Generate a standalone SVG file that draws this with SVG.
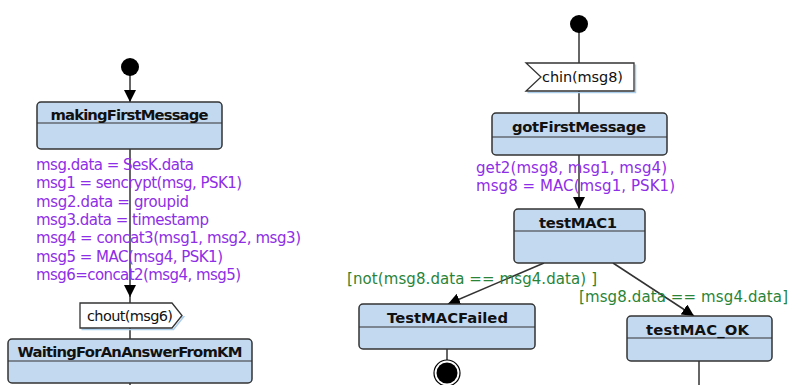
<svg xmlns="http://www.w3.org/2000/svg" width="790" height="385" viewBox="0 0 790 385">
<defs>
<style>
.st{fill:#c3d9f0;stroke:#333;stroke-width:1.5}
.dv{stroke:#333;stroke-width:1.2}
.tt{font-family:"DejaVu Sans",sans-serif;font-weight:bold;font-size:14.8px;fill:#111;text-anchor:middle}
.ac{font-family:"DejaVu Sans",sans-serif;font-size:15px;fill:#8e2ee6}
.gd{font-family:"DejaVu Sans",sans-serif;font-size:15px;fill:#2a8438}
.sg{font-family:"DejaVu Sans",sans-serif;font-size:14.5px;fill:#111}
.ln{stroke:#333;stroke-width:1.5;fill:none}
.sig{fill:#fff;stroke:#333;stroke-width:1.3}
.sh{fill:none;stroke:#a9cdea;stroke-width:1.5}
</style>
<marker id="ah" viewBox="0 0 12 12" refX="12" refY="6" markerWidth="12" markerHeight="12" markerUnits="userSpaceOnUse" orient="auto">
<path d="M0,0 L12,6 L0,12 Z" fill="#000"/>
</marker>
</defs>
<rect width="790" height="385" fill="#fff"/>

<g id="connectors">
<line class="ln" x1="130" y1="72" x2="130" y2="102" marker-end="url(#ah)"/>
<line class="ln" x1="130" y1="149" x2="130" y2="297" marker-end="url(#ah)"/>
<line class="ln" x1="130" y1="296" x2="130" y2="303"/>
<line class="ln" x1="130" y1="328" x2="130" y2="339"/>
<line class="ln" x1="130" y1="383" x2="130" y2="385"/>
<line class="ln" x1="579" y1="30" x2="579" y2="63"/>
<line class="ln" x1="579" y1="91" x2="579" y2="113"/>
<line class="ln" x1="579" y1="155" x2="579" y2="209" marker-end="url(#ah)"/>
<line class="ln" x1="544" y1="263" x2="448" y2="304" marker-end="url(#ah)"/>
<line class="ln" x1="613" y1="263" x2="694" y2="316" marker-end="url(#ah)"/>
<line class="ln" x1="447" y1="349" x2="447" y2="360"/>
<line class="ln" x1="699" y1="361" x2="699" y2="385"/>
</g>

<g id="init1"><circle cx="130" cy="67" r="9" fill="#000"/></g>
<g id="init2"><circle cx="579" cy="24" r="9" fill="#000"/></g>

<g id="makingFirstMessage">
<rect class="st" x="37" y="102" width="185" height="47" rx="4"/>
<line class="dv" x1="37" y1="123" x2="222" y2="123"/>
<text class="tt" x="129.5" y="120" textLength="158">makingFirstMessage</text>
</g>

<g id="actions1">
<text class="ac" x="36" y="170" textLength="158">msg.data = SesK.data</text>
<text class="ac" x="36" y="188.3" textLength="206">msg1 = sencrypt(msg, PSK1)</text>
<text class="ac" x="36" y="206.6" textLength="153">msg2.data = groupid</text>
<text class="ac" x="36" y="224.9" textLength="173">msg3.data = timestamp</text>
<text class="ac" x="36" y="243.2" textLength="265">msg4 = concat3(msg1, msg2, msg3)</text>
<text class="ac" x="36" y="261.5" textLength="187">msg5 = MAC(msg4, PSK1)</text>
<text class="ac" x="36" y="279.8" textLength="205">msg6=concat2(msg4, msg5)</text>
</g>

<g id="chout">
<polygon class="sh" points="81.5,329.5 173.5,329.5 183.5,317"/>
<polygon class="sig" points="80,303 172,303 182,315.5 172,328 80,328"/>
<text class="sg" x="87" y="320.5" textLength="86">chout(msg6)</text>
</g>

<g id="WaitingForAnAnswerFromKM">
<rect class="st" x="8" y="339" width="244" height="44" rx="4"/>
<line class="dv" x1="8" y1="361" x2="252" y2="361"/>
<text class="tt" x="130" y="357" textLength="225">WaitingForAnAnswerFromKM</text>
</g>

<g id="chin">
<polyline class="sh" points="527.5,92.5 635.5,92.5 635.5,64.5"/>
<polygon class="sig" points="526,63 634,63 634,91 526,91 541,77"/>
<text class="sg" x="542" y="82" textLength="81">chin(msg8)</text>
</g>

<g id="gotFirstMessage">
<rect class="st" x="492" y="113" width="175" height="42" rx="4"/>
<line class="dv" x1="492" y1="137" x2="667" y2="137"/>
<text class="tt" x="579" y="132" textLength="134">gotFirstMessage</text>
</g>

<g id="actions2">
<text class="ac" x="476" y="172.5" textLength="191">get2(msg8, msg1, msg4)</text>
<text class="ac" x="476" y="190.5" textLength="199">msg8 = MAC(msg1, PSK1)</text>
</g>

<g id="testMAC1">
<rect class="st" x="514" y="209" width="131" height="54" rx="4"/>
<line class="dv" x1="514" y1="231" x2="645" y2="231"/>
<text class="tt" x="578" y="228" textLength="78">testMAC1</text>
</g>

<g id="guards">
<text class="gd" x="347" y="284" textLength="250">[not(msg8.data == msg4.data) ]</text>
<text class="gd" x="579" y="302" textLength="209">[msg8.data == msg4.data]</text>
</g>

<g id="TestMACFailed">
<rect class="st" x="359" y="304" width="176" height="45" rx="4"/>
<line class="dv" x1="359" y1="327" x2="535" y2="327"/>
<text class="tt" x="447.5" y="323" textLength="121">TestMACFailed</text>
</g>

<g id="final">
<circle cx="447" cy="373" r="13" fill="#fff" stroke="#000" stroke-width="1.2"/>
<circle cx="447" cy="373" r="10.5" fill="#000"/>
</g>

<g id="testMAC_OK">
<rect class="st" x="627" y="316" width="145" height="45" rx="4"/>
<line class="dv" x1="627" y1="338" x2="772" y2="338"/>
<text class="tt" x="697.5" y="335" textLength="103">testMAC_OK</text>
</g>
</svg>
